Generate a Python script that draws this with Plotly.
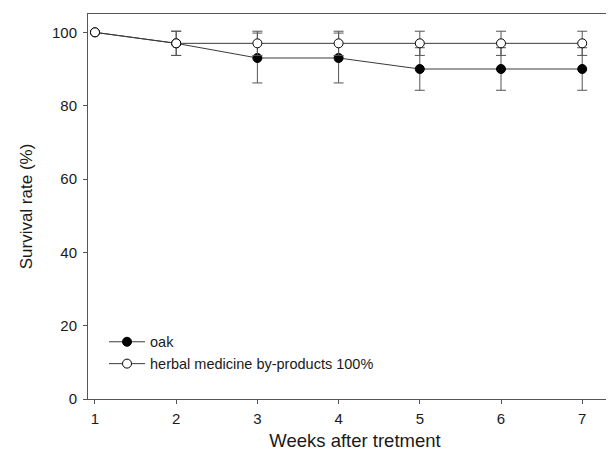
import plotly.graph_objects as go

weeks = [1, 2, 3, 4, 5, 6, 7]
oak = [100, 97, 93, 93, 90, 90, 90]
oak_err = [0, 3.3, 6.8, 6.8, 5.8, 5.8, 5.8]
herbal = [100, 97, 97, 97, 97, 97, 97]
herbal_err = [0, 3.3, 3.3, 3.3, 3.3, 3.3, 3.3]

FONT = "Liberation Sans, Arial, sans-serif"
LINE = "#3a3a3a"
AXIS = "#555555"

fig = go.Figure()
fig.add_trace(go.Scatter(
    x=weeks, y=oak, name="oak", mode="lines+markers",
    line=dict(color=LINE, width=1),
    marker=dict(symbol="circle", size=9, color="black", line=dict(color="black", width=1)),
    error_y=dict(type="data", array=oak_err, visible=True, color=AXIS, thickness=1, width=5),
))
fig.add_trace(go.Scatter(
    x=weeks, y=herbal, name="herbal medicine by-products 100%", mode="lines+markers",
    line=dict(color=LINE, width=1),
    marker=dict(symbol="circle", size=9, color="white", line=dict(color="black", width=1)),
    error_y=dict(type="data", array=herbal_err, visible=True, color=AXIS, thickness=1, width=5),
))

fig.update_layout(
    width=614, height=454,
    margin=dict(l=80, r=0, t=6, b=63),
    paper_bgcolor="white", plot_bgcolor="white",
    font=dict(family=FONT, size=14, color="#1a1a1a"),
    showlegend=True,
    legend=dict(
        x=0.03, y=0.19, xanchor="left", yanchor="top",
        bgcolor="rgba(0,0,0,0)", borderwidth=0,
        font=dict(family=FONT, size=14.5, color="#1a1a1a"),
        tracegroupgap=0, itemwidth=36,
    ),
    xaxis=dict(
        range=[0.914, 7.49], tickmode="array", tickvals=weeks,
        ticks="outside", ticklen=4, tickcolor=AXIS, tickwidth=1,
        showline=True, linecolor=AXIS, linewidth=1, mirror=True,
        showgrid=False, zeroline=False,
        tickfont=dict(size=15), ticklabelstandoff=2,
        title=dict(text="Weeks after tretment", font=dict(size=18.5), standoff=8),
    ),
    yaxis=dict(
        range=[0, 105], tickmode="array", tickvals=[0, 20, 40, 60, 80, 100],
        ticks="outside", ticklen=4, tickcolor=AXIS, tickwidth=1,
        showline=True, linecolor=AXIS, linewidth=1, mirror=False,
        showgrid=False, zeroline=False,
        tickfont=dict(size=15), ticklabelstandoff=3,
        title=dict(text="Survival rate (%)", font=dict(size=17), standoff=15),
    ),
)

fig.write_html("out.html")
